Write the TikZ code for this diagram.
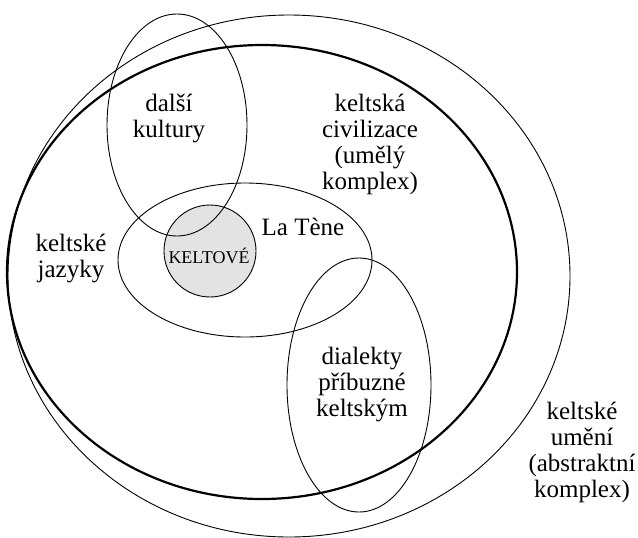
\documentclass[tikz,border=0pt]{standalone}
\usepackage{fontspec}
\setmainfont{Liberation Serif}
\begin{document}
\begin{tikzpicture}[
  x=0.5pt, y=-0.5pt,
  font=\fontsize{12.5}{13}\selectfont,
  set/.style={draw, line width=0.45pt},
  mainset/.style={draw, line width=1.1pt},
  lbl/.style={align=center, inner sep=0pt}
]
  \useasboundingbox (0,0) rectangle (638,537);
  % core
  \fill[gray!22] (210,251) circle [radius=46];
  \draw[set] (210,251) circle [radius=46];
  % sets
  \draw[set] (289,276) ellipse [x radius=281, y radius=261];
  \draw[mainset] (262,272) ellipse [x radius=255, y radius=227];
  \draw[set] (177,125) ellipse [x radius=70, y radius=111];
  \draw[set] (245,260) ellipse [x radius=127, y radius=77];
  \draw[set] (359,385) ellipse [x radius=72, y radius=127];
  % labels
  \node[lbl] (kultury) at (169,118) {další\\kultury};
  \node[lbl] (civil) at (370,144) {keltská\\civilizace\\(umělý\\komplex)};
  \node[lbl] (latene) at (303,227) {La Tène};
  \node[lbl] (jazyky) at (71,258) {keltské\\jazyky};
  \node[lbl, font=\fontsize{9}{11}\selectfont] (keltove) at (209,256) {KELTOVÉ};
  \node[lbl] (dialekty) at (362,385) {dialekty\\příbuzné\\keltským};
  \node[lbl] (umeni) at (582,452) {keltské\\umění\\(abstraktní\\komplex)};
\end{tikzpicture}
\end{document}
